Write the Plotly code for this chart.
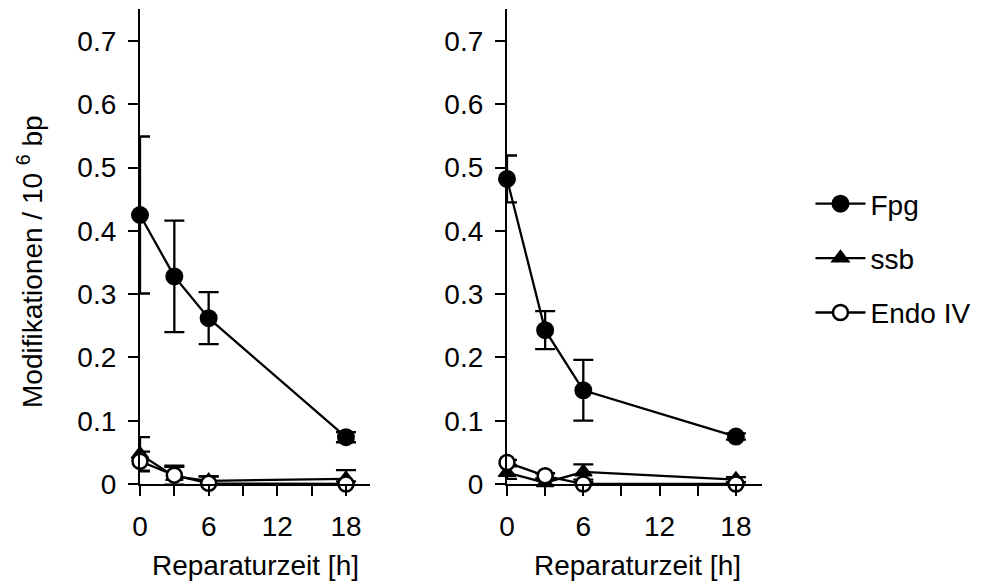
import plotly.graph_objects as go

# ---- data ----
hours = [0, 3, 6, 18]

left_fpg = [0.425, 0.328, 0.262, 0.074]
left_fpg_err = [0.124, 0.088, 0.041, 0.008]
left_ssb = [0.047, 0.012, 0.005, 0.008]
left_ssb_err = [0.027, 0.015, 0.007, 0.014]
left_endo = [0.036, 0.014, 0.001, 0.0]
left_endo_err = [0.015, 0.015, 0.011, 0.004]

right_fpg = [0.482, 0.243, 0.148, 0.075]
right_fpg_err = [0.037, 0.030, 0.048, 0.005]
right_ssb = [0.018, 0.002, 0.019, 0.007]
right_ssb_err = [0.010, 0.005, 0.012, 0.004]
right_endo = [0.034, 0.013, 0.0, 0.0]
right_endo_err = [0.004, 0.004, 0.003, 0.003]

series_names = ["Fpg", "ssb", "Endo IV"]
y_tickvals = [0, 0.1, 0.2, 0.3, 0.4, 0.5, 0.6, 0.7]
y_ticktext = ["0", "0.1", "0.2", "0.3", "0.4", "0.5", "0.6", "0.7"]
x_tickvals = [0, 6, 12, 18]
x_ticktext = ["0", "6", "12", "18"]
x_title = "Reparaturzeit [h]"
y_title = "Modifikationen / 10 <sup>6</sup> bp"

FONT = "Arial, Liberation Sans, sans-serif"
FS = 28

styles = {
    "Fpg": dict(symbol="circle", color="black", size=16, line=dict(color="black", width=2)),
    "ssb": dict(symbol="triangle-up", color="black", size=15, line=dict(color="black", width=1.5)),
    "Endo IV": dict(symbol="circle", color="white", size=15, line=dict(color="black", width=2.5)),
}

fig = go.Figure()

panels = [
    ("x", "y", [left_fpg, left_ssb, left_endo], [left_fpg_err, left_ssb_err, left_endo_err], True),
    ("x2", "y2", [right_fpg, right_ssb, right_endo], [right_fpg_err, right_ssb_err, right_endo_err], False),
]

for xa, ya, vals, errs, show in panels:
    for name, v, e in zip(series_names, vals, errs):
        fig.add_trace(go.Scatter(
            x=hours, y=v, name=name, mode="lines+markers",
            xaxis=xa, yaxis=ya,
            line=dict(color="black", width=2.3),
            marker=styles[name],
            error_y=dict(type="data", array=e, visible=True, color="black", thickness=2.3, width=10),
            legendgroup=name, showlegend=show, cliponaxis=False,
        ))

W, H = 981, 588
OFF = 8  # page body margin


def px(xp):
    return (xp - OFF) / W


def py(yp):
    return (H - (yp - OFF)) / H


axis_common = dict(
    showline=True, linecolor="black", linewidth=2.3,
    ticks="outside", ticklen=10, tickwidth=2.3, tickcolor="black",
    showgrid=False, zeroline=False,
    tickfont=dict(family=FONT, size=FS, color="black"),
    automargin=False,
)
x_minor = dict(dtick=3, tick0=0, ticks="outside", ticklen=10, tickwidth=2.3, tickcolor="black", showgrid=False)

fig.update_layout(
    width=W, height=H,
    margin=dict(l=0, r=0, t=0, b=0),
    paper_bgcolor="white", plot_bgcolor="white",
    font=dict(family=FONT, size=FS, color="black"),
    xaxis=dict(domain=[px(140), px(370)], range=[0, 20.1], anchor="y",
               tickvals=x_tickvals, ticktext=x_ticktext, ticklabelstandoff=6, minor=x_minor, **axis_common),
    yaxis=dict(domain=[py(484), py(9.3)], range=[0, 0.75], anchor="x",
               tickvals=y_tickvals, ticktext=y_ticktext, ticklabelstandoff=6, **axis_common),
    xaxis2=dict(domain=[px(507), px(762)], range=[0, 20.05], anchor="y2",
                tickvals=x_tickvals, ticktext=x_ticktext, ticklabelstandoff=6, minor=x_minor, **axis_common),
    yaxis2=dict(domain=[py(484), py(9.3)], range=[0, 0.75], anchor="x2",
                tickvals=y_tickvals, ticktext=y_ticktext, ticklabelstandoff=6, **axis_common),
    legend=dict(x=0.818, y=(H - 171) / H, xanchor="left", yanchor="top",
                font=dict(family=FONT, size=FS, color="black"),
                traceorder="grouped", tracegroupgap=15, itemwidth=50,
                bgcolor="rgba(0,0,0,0)"),
    showlegend=True,
)

fig.add_annotation(text=x_title, x=px(255), y=py(565), xref="paper", yref="paper",
                   showarrow=False, xanchor="center", yanchor="middle",
                   font=dict(family=FONT, size=FS, color="black"))
fig.add_annotation(text=x_title, x=px(637), y=py(565), xref="paper", yref="paper",
                   showarrow=False, xanchor="center", yanchor="middle",
                   font=dict(family=FONT, size=FS, color="black"))
fig.add_annotation(text=y_title, x=px(30), y=py(262), xref="paper", yref="paper",
                   showarrow=False, xanchor="center", yanchor="middle", textangle=-90,
                   font=dict(family=FONT, size=FS, color="black"))

fig.write_html("out.html")
